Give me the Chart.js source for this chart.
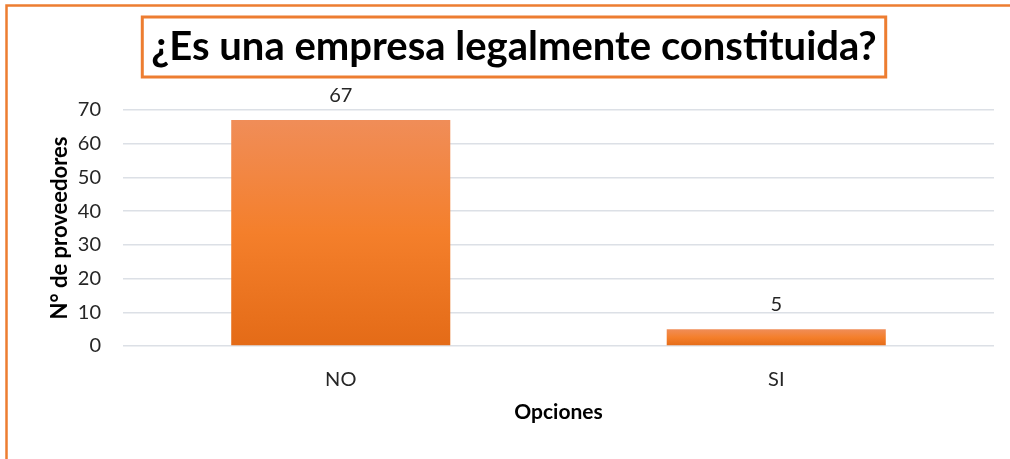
<!DOCTYPE html>
<html>
<head>
<meta charset="utf-8">
<script src="https://cdn.jsdelivr.net/npm/chart.js@4"></script>
<style>
  html, body { margin: 0; padding: 0; background: #fff; }
  #wrap { width: 1010px; height: 459px; position: relative; }
</style>
</head>
<body>
<div id="wrap"><canvas id="chart" width="1010" height="459"></canvas></div>
<script>
// data
const categories = ['NO', 'SI'];
const values = [67, 5];
const yTicks = [0, 10, 20, 30, 40, 50, 60, 70];
const titleText = '¿Es una empresa legalmente constituida?';
const xTitle = 'Opciones';
const yTitle = 'N° de proveedores';

const FONT = 'Lato, "Open Sans", sans-serif';
const ORANGE = '#ED7D31';

// gradient per bar, from its top down to the base
function barGradient(ctx) {
  const chart = ctx.chart;
  const y = chart.scales.y;
  if (!y || ctx.parsed == null) return '#F47F2B';
  const top = y.getPixelForValue(ctx.parsed.y);
  const base = y.getPixelForValue(0);
  if (!isFinite(top) || !isFinite(base) || top === base) return '#F47F2B';
  const g = chart.ctx.createLinearGradient(0, top, 0, base);
  g.addColorStop(0, '#F08D58');
  g.addColorStop(0.5, '#F47F2B');
  g.addColorStop(1, '#E46B17');
  return g;
}

// frame + boxed title + value labels
const decorations = {
  id: 'decorations',
  afterDraw(chart) {
    const c = chart.ctx;
    c.save();
    // outer frame (top and left edges only are visible)
    c.strokeStyle = ORANGE;
    c.lineWidth = 2.5;
    c.beginPath();
    c.moveTo(1010, 5.5);
    c.lineTo(6.5, 5.5);
    c.lineTo(6.5, 459);
    c.stroke();

    // title
    c.font = 'bold 40px ' + FONT;
    c.fillStyle = '#000';
    c.textAlign = 'center';
    c.textBaseline = 'middle';
    const cx = 514, cy = 47;
    c.fillText(titleText, cx, cy);
    const w = c.measureText(titleText).width;
    c.lineWidth = 3;
    c.strokeRect(cx - w / 2 - 9, 17, w + 18, 60);

    // value labels
    c.font = '20px ' + FONT;
    c.fillStyle = '#262626';
    c.textBaseline = 'middle';
    chart.getDatasetMeta(0).data.forEach((bar, i) => {
      c.fillText(String(values[i]), bar.x, bar.y - 25);
    });
    c.restore();
  }
};

new Chart(document.getElementById('chart'), {
  type: 'bar',
  data: {
    labels: categories,
    datasets: [{
      data: values,
      backgroundColor: barGradient,
      borderWidth: 0,
      categoryPercentage: 1,
      barPercentage: 0.503
    }]
  },
  options: {
    responsive: false,
    animation: false,
    layout: { padding: { top: 110, right: 16, left: 0, bottom: 0 } },
    plugins: { legend: { display: false }, tooltip: { enabled: false }, title: { display: false } },
    scales: {
      x: {
        grid: { display: false, drawTicks: false },
        border: { display: false },
        ticks: { font: { family: FONT, size: 20 }, color: '#262626', padding: 22 },
        title: { display: true, text: xTitle, font: { family: FONT, size: 21, weight: 'bold' }, color: '#000', padding: { top: 0, bottom: 34 } },
        afterFit: s => { s.height = 113; }
      },
      y: {
        min: 0, max: 70,
        afterBuildTicks: s => { s.ticks = yTicks.map(v => ({ value: v })); },
        grid: { color: '#DCE0E6', lineWidth: 1.5, drawTicks: false },
        border: { display: false },
        ticks: { font: { family: FONT, size: 20 }, color: '#262626', padding: 22 },
        title: { display: true, text: yTitle, font: { family: FONT, size: 22, weight: 'bold' }, color: '#000', padding: { top: 47, bottom: 0 } },
        afterFit: s => { s.width = 123; }
      }
    }
  },
  plugins: [decorations]
});
</script>
</body>
</html>
